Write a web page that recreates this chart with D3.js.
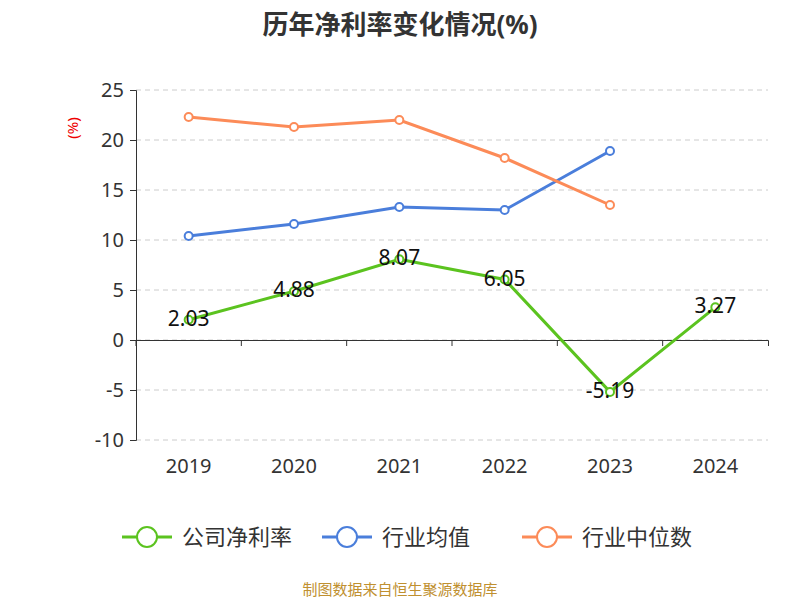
<!DOCTYPE html>
<html><head><meta charset="utf-8">
<script src="https://cdn.jsdelivr.net/npm/d3@7"></script>
<style>body{margin:0;background:#fff}text{font-family:"Noto Sans","Noto Sans CJK SC",sans-serif}</style>
</head><body><svg id="c" width="800" height="600"></svg>
<script>
// chart data
const years = ["2019", "2020", "2021", "2022", "2023", "2024"];
const company = [2.03, 4.88, 8.07, 6.05, -5.19, 3.27];
const industryAvg = [10.4, 11.6, 13.3, 13.0, 18.9, null];
const industryMid = [22.3, 21.3, 22.0, 18.2, 13.5, null];
const yTicks = [-10, -5, 0, 5, 10, 15, 20, 25];

const svg = d3.select("#c");
const x = d3.scaleBand().domain(years).range([136, 768]);
const y = d3.scaleLinear().domain([-10, 25]).range([440, 90]);
const cx = d => x(d) + x.bandwidth() / 2;

svg.append("text").attr("x", 400).attr("y", 34).attr("text-anchor", "middle")
  .attr("font-size", 26).attr("font-weight", "bold").attr("fill", "#333").text("历年净利率变化情况(%)");

// grid
svg.selectAll(".g").data(yTicks).enter().append("line")
  .attr("x1", 136).attr("x2", 768).attr("y1", d => y(d)).attr("y2", d => y(d))
  .attr("stroke", "#ccc").attr("stroke-dasharray", "5,4");

// y axis
const ya = svg.append("g").attr("transform", "translate(136,0)")
  .call(d3.axisLeft(y).tickValues(yTicks).tickSize(6).tickPadding(6).tickFormat(d => String(d)));
ya.selectAll("path,line").attr("stroke", "#333");
ya.selectAll("text").attr("font-size", 20).attr("fill", "#333");

// x axis at zero
const xa = svg.append("g").attr("transform", `translate(0,${y(0)})`)
  .call(d3.axisBottom(x).tickSizeOuter(0).tickSize(6).tickFormat(""));
xa.selectAll("path,line").attr("stroke", "#333");
xa.selectAll(".tick").attr("transform", d => `translate(${x(d)},0)`);
svg.selectAll(".xl").data(years).enter().append("text")
  .attr("x", d => cx(d)).attr("y", 473).attr("text-anchor", "middle")
  .attr("font-size", 20).attr("fill", "#333").text(d => d);

svg.append("text").attr("transform", "translate(78,128) rotate(-90)").attr("text-anchor", "middle")
  .attr("font-size", 15).attr("fill", "#e00").text("(%)");

const series = [
  { name: "公司净利率", vals: company, color: "#5bc31f" },
  { name: "行业均值", vals: industryAvg, color: "#4a7edb" },
  { name: "行业中位数", vals: industryMid, color: "#fc8b58" }
];
const line = d3.line().defined(d => d[1] != null).x(d => cx(d[0])).y(d => y(d[1]));
series.forEach(s => {
  const pts = years.map((yr, i) => [yr, s.vals[i]]);
  svg.append("path").attr("d", line(pts)).attr("fill", "none").attr("stroke", s.color).attr("stroke-width", 3);
  svg.selectAll(null).data(pts.filter(p => p[1] != null)).enter().append("circle")
    .attr("cx", d => cx(d[0])).attr("cy", d => y(d[1])).attr("r", 4)
    .attr("fill", "#fff").attr("stroke", s.color).attr("stroke-width", 2);
});
svg.selectAll(".lb").data(years.map((yr, i) => [yr, company[i]])).enter().append("text")
  .attr("x", d => cx(d[0])).attr("y", d => y(d[1]) + 6).attr("text-anchor", "middle")
  .attr("font-size", 21).attr("fill", "#111").text(d => d[1].toFixed(2));

// legend
const lx = [122, 322, 522];
series.forEach((s, i) => {
  const g = svg.append("g").attr("transform", `translate(${lx[i]},537)`);
  g.append("line").attr("x1", 0).attr("x2", 50).attr("stroke", s.color).attr("stroke-width", 3);
  g.append("circle").attr("cx", 25).attr("r", 10).attr("fill", "#fff").attr("stroke", s.color).attr("stroke-width", 2);
  g.append("text").attr("x", 60).attr("y", 8).attr("font-size", 22).attr("fill", "#333").text(s.name);
});

svg.append("text").attr("x", 400).attr("y", 595).attr("text-anchor", "middle")
  .attr("font-size", 15).attr("fill", "#c09030").text("制图数据来自恒生聚源数据库");
</script></body></html>
